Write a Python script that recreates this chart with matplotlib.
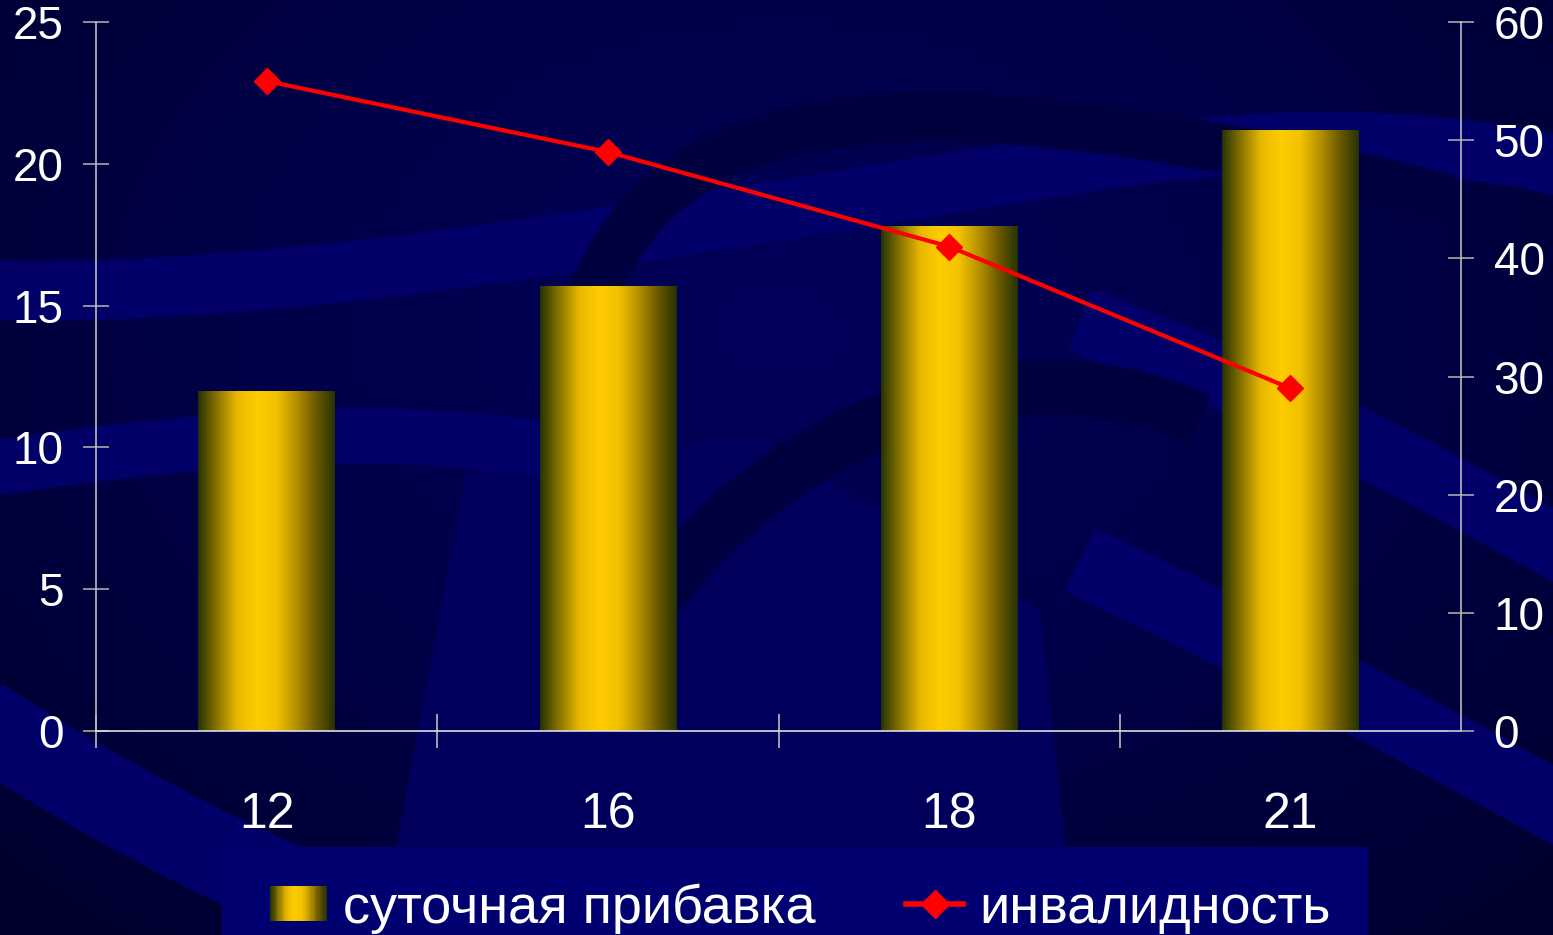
import numpy as np
import matplotlib
matplotlib.use('Agg')
import matplotlib.pyplot as plt
from matplotlib.path import Path
from matplotlib.patches import PathPatch, Rectangle
from matplotlib.colors import LinearSegmentedColormap
from matplotlib.lines import Line2D
from matplotlib.legend_handler import HandlerBase

plt.rcParams['font.family'] = ['Liberation Sans', 'DejaVu Sans']

# data
ages = ['12', '16', '18', '21']
gain = [12.0, 15.7, 17.8, 21.2]          # суточная прибавка (left axis)
disability = [55, 49, 41, 29]           # инвалидность (right axis)
left_ticks = [0, 5, 10, 15, 20, 25]
right_ticks = [0, 10, 20, 30, 40, 50, 60]

gold = LinearSegmentedColormap.from_list(
    'gold', ['#263300', '#8c7600', '#e8b800', '#ffcc00', '#f2c200', '#b89200', '#6e5a00', '#263300'])

fig = plt.figure(figsize=(15.53, 9.35), dpi=100)

# background: dark navy with soft ribbons
bg = fig.add_axes([0, 0, 1, 1], zorder=-10)
bg.set_xlim(0, 1553)
bg.set_ylim(935, 0)
bg.axis('off')
yy, xx = np.mgrid[0:935:4, 0:1553:4]
r = np.sqrt(((xx - 780) / 900.0) ** 2 + ((yy - 330) / 650.0) ** 2)
navy = LinearSegmentedColormap.from_list('navy', ['#00005a', '#000048', '#000030'])
bg.imshow(r, cmap=navy, extent=(0, 1553, 935, 0), aspect='auto', vmin=0, vmax=1.2, zorder=0)

def ribbon(pts, width, color):
    codes = [Path.MOVETO] + [Path.CURVE4] * (len(pts) - 1)
    bg.add_patch(PathPatch(Path(pts, codes), fill=False, lw=width / 1.39,
                           edgecolor=color, capstyle='butt', zorder=1))

light = '#000068'
dark = '#000040'
# lighter block behind middle bars
bg.add_patch(plt.Polygon([(470, 450), (760, 440), (1040, 610), (1075, 935), (380, 935)],
                         closed=True, facecolor='#00005c', edgecolor='none', zorder=1))
ribbon([(-20, 290), (300, 300), (700, 220), (1100, 160), (1300, 130), (1450, 140), (1580, 170)], 60, light)
ribbon([(-20, 470), (250, 430), (450, 420), (650, 470)], 55, light)
ribbon([(1080, 320), (1250, 380), (1400, 460), (1580, 560)], 65, light)
ribbon([(1080, 560), (1250, 640), (1400, 720), (1580, 820)], 70, light)
ribbon([(-20, 720), (150, 830), (300, 900), (470, 960)], 85, light)
ribbon([(560, 420), (600, 150), (750, 20), (1450, 200)], 50, dark)
ribbon([(640, 620), (760, 440), (1000, 330), (1200, 420)], 55, dark)

# legend panel
bg.add_patch(Rectangle((222, 847), 1146, 100, facecolor='#000070', edgecolor='none', zorder=2))

# main chart
ax = fig.add_axes([96 / 1553, 1 - 731 / 935, 1365 / 1553, 709 / 935])
ax.set_facecolor('none')
x = np.arange(len(ages))
bars = ax.bar(x, gain, width=0.4, color='none', edgecolor='none', zorder=2)
grad = np.linspace(0, 1, 256).reshape(1, -1)
for b in bars:
    x0, w, h = b.get_x(), b.get_width(), b.get_height()
    im = ax.imshow(grad, cmap=gold, extent=(x0, x0 + w, 0, h), aspect='auto', zorder=2)
    im.set_clip_path(b)
ax.set_xlim(-0.5, 3.5)
ax.set_ylim(0, 25)
ax.set_yticks(left_ticks)
ax.set_xticks(x)
ax.set_xticklabels(ages)
ax.set_xticks([-0.5, 0.5, 1.5, 2.5], minor=True)
for s in ['top', 'right']:
    ax.spines[s].set_visible(False)
ax.spines['left'].set_color('#bcbcbc')
ax.spines['bottom'].set_color('#dddddd')
ax.spines['left'].set_linewidth(1.2)
ax.spines['bottom'].set_linewidth(1.2)
ax.tick_params(axis='y', direction='inout', length=19, width=1.2, color='#a8a8a8',
               labelcolor='white', labelsize=33, pad=14)
ax.tick_params(axis='x', which='major', length=0, labelcolor='white', labelsize=36, pad=44)
ax.tick_params(axis='x', which='minor', direction='inout', length=24, width=1.2, color='#bcbcbc')

ax2 = ax.twinx()
ax2.plot(x, disability, color='#ff0000', lw=3, marker='D', markersize=13, zorder=5)
ax2.set_ylim(0, 60)
ax2.set_yticks(right_ticks)
for s in ['top', 'left', 'bottom']:
    ax2.spines[s].set_visible(False)
ax2.spines['right'].set_color('#bcbcbc')
ax2.spines['right'].set_linewidth(1.2)
ax2.tick_params(axis='y', direction='inout', length=19, width=1.2, color='#a8a8a8',
                labelcolor='white', labelsize=33, pad=14)

# legend with gradient swatch
class GradientHandler(HandlerBase):
    def create_artists(self, legend, orig, xd, yd, width, height, fontsize, trans):
        n = 48
        out = []
        for i in range(n):
            out.append(Rectangle((-xd + width * i / n, -yd), width / n + 0.3, height,
                                 facecolor=gold(i / (n - 1)), edgecolor='none', transform=trans))
        return out

bar_handle = Rectangle((0, 0), 1, 1)
line_handle = Line2D([], [], color='#ff0000', lw=4, marker='D', markersize=14)
leg = fig.legend([bar_handle, line_handle], ['суточная прибавка', 'инвалидность'],
                 handler_map={Rectangle: GradientHandler()},
                 loc='upper left', bbox_to_anchor=(270 / 1553, 1 - 883 / 935),
                 ncol=2, fontsize=39, frameon=False, borderaxespad=0, borderpad=0,
                 handlelength=1.05, handleheight=0.6, handletextpad=0.3,
                 columnspacing=1.67)
for t in leg.get_texts():
    t.set_color('white')

fig.savefig('out.png', dpi=100)
